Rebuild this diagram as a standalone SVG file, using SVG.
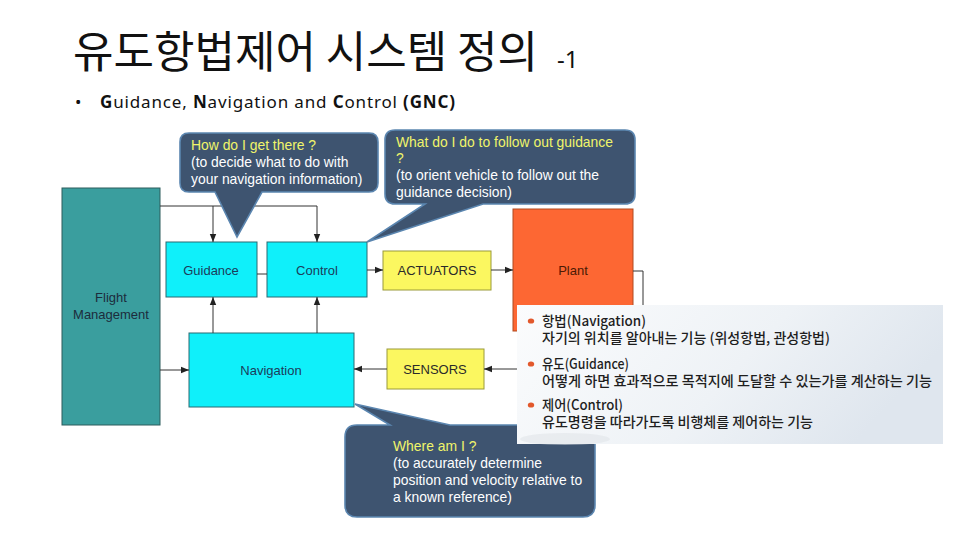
<svg xmlns="http://www.w3.org/2000/svg" width="960" height="540" viewBox="0 0 960 540">
<defs>
<style>
.box-c{fill:#0ff0fa;stroke:#2b6a72;stroke-width:1}
.box-y{fill:#fbf760;stroke:#9a9a3a;stroke-width:1}
.lbl{font-family:"Liberation Sans",Arial,sans-serif;font-size:13px;text-anchor:middle}
.conn{fill:none;stroke:#333;stroke-width:1}
.callout{fill:#3e5470;stroke:#5b86b0;stroke-width:1.6}
.ct{font-family:"Liberation Sans",Arial,sans-serif;font-size:13.9px;fill:#ffffff}
.cy{fill:#f0f56a}
.kt{font-family:"Noto Sans CJK KR","Noto Sans",sans-serif;font-size:14px;font-weight:500;fill:#1e1e1e}
</style>
<marker id="arr" viewBox="0 0 8 8" refX="8" refY="4" markerWidth="8" markerHeight="8" markerUnits="userSpaceOnUse" orient="auto">
<path d="M0,0.8 L8,4 L0,7.2 Z" fill="#222"/>
</marker>
<linearGradient id="pg" x1="0" y1="0" x2="1" y2="0.3">
<stop offset="0" stop-color="#fbfcfd"/>
<stop offset="0.6" stop-color="#eef2f6"/>
<stop offset="1" stop-color="#dfe6ee"/>
</linearGradient>
</defs>
<rect width="960" height="540" fill="#ffffff"/>

<g id="title">
<text x="73" y="68" font-family="'Noto Sans CJK KR',sans-serif" font-size="44" fill="#111" textLength="465" lengthAdjust="spacingAndGlyphs">유도항법제어 시스템 정의</text>
<text x="557" y="68" font-family="'Noto Sans','Noto Sans CJK KR',sans-serif" font-size="24" fill="#111">-1</text>
</g>
<g id="subtitle" font-family="'Noto Sans','Noto Sans CJK KR',sans-serif" font-size="17" fill="#111">
<text x="75" y="108">•</text>
<text x="100" y="108" textLength="355" lengthAdjust="spacing"><tspan font-weight="bold">G</tspan>uidance, <tspan font-weight="bold">N</tspan>avigation and <tspan font-weight="bold">C</tspan>ontrol <tspan font-weight="bold">(GNC)</tspan></text>
</g>

<g id="flight-management">
<rect x="62" y="188" width="98" height="237" fill="#3a9e9e" stroke="#2c5c5c"/>
<text class="lbl" x="111" y="302" fill="#1c2c3c">Flight</text>
<text class="lbl" x="111" y="319" fill="#1c2c3c">Management</text>
</g>
<g id="guidance">
<rect class="box-c" x="166" y="242" width="91" height="55"/>
<text class="lbl" x="211" y="275" fill="#1c3c5a">Guidance</text>
</g>
<g id="control">
<rect class="box-c" x="267" y="242" width="100" height="55"/>
<text class="lbl" x="317" y="275" fill="#1c3c5a">Control</text>
</g>
<g id="navigation">
<rect class="box-c" x="189" y="333" width="165" height="74"/>
<text class="lbl" x="271" y="375" fill="#1c3c5a">Navigation</text>
</g>
<g id="actuators">
<rect class="box-y" x="383" y="251" width="108" height="39"/>
<text class="lbl" x="437" y="275" fill="#2a2a2a">ACTUATORS</text>
</g>
<g id="sensors">
<rect class="box-y" x="387" y="349" width="97" height="40"/>
<text class="lbl" x="435" y="374" fill="#2a2a2a">SENSORS</text>
</g>
<g id="plant">
<rect x="513" y="209" width="120" height="122" fill="#fd6733" stroke="#b04a20"/>
<text class="lbl" x="573" y="275" fill="#4a1a05">Plant</text>
</g>

<g id="connectors">
<path class="conn" d="M160,206 H317 V242" marker-end="url(#arr)"/>
<path class="conn" d="M213,206 V242" marker-end="url(#arr)"/>
<path class="conn" d="M257,274 H267"/>
<path class="conn" d="M367,270 H383" marker-end="url(#arr)"/>
<path class="conn" d="M491,270 H513" marker-end="url(#arr)"/>
<path class="conn" d="M633,271 H643 V369 H484" marker-end="url(#arr)"/>
<path class="conn" d="M387,369 H354" marker-end="url(#arr)"/>
<path class="conn" d="M160,370 H189" marker-end="url(#arr)"/>
<path class="conn" d="M213,333 V297" marker-end="url(#arr)"/>
<path class="conn" d="M317,333 V297" marker-end="url(#arr)"/>
</g>

<g id="callout-guidance">
<path class="callout" d="M189,133 H369 Q378,133 378,142 V183 Q378,192 369,192 H262 L237,237 L215,192 H189 Q180,192 180,183 V142 Q180,133 189,133 Z"/>
<text class="ct cy" x="191" y="150">How do I get there ?</text>
<text class="ct" x="191" y="167">(to decide what to do with</text>
<text class="ct" x="191" y="184">your navigation information)</text>
</g>
<g id="callout-control">
<path class="callout" d="M395,130 H625 Q635,130 635,140 V194 Q635,204 625,204 H483 L367,242 L425,204 H395 Q385,204 385,194 V140 Q385,130 395,130 Z"/>
<text class="ct cy" x="396" y="147">What do I do to follow out guidance</text>
<text class="ct cy" x="396" y="163">?</text>
<text class="ct" x="396" y="180">(to orient vehicle to follow out the</text>
<text class="ct" x="396" y="197">guidance decision)</text>
</g>
<g id="callout-navigation">
<path class="callout" d="M357,425 H390 L355,404 L450,425 H583 Q595,425 595,437 V505 Q595,517 583,517 H357 Q345,517 345,505 V437 Q345,425 357,425 Z"/>
<text class="ct cy" x="393" y="451">Where am I ?</text>
<text class="ct" x="393" y="468">(to accurately determine</text>
<text class="ct" x="393" y="485">position and velocity relative to</text>
<text class="ct" x="393" y="502">a known reference)</text>
</g>

<g id="definition-panel">
<rect x="517" y="305" width="426" height="139" fill="url(#pg)"/>
<ellipse cx="565" cy="439" rx="45" ry="6" fill="#dde1e5" opacity="0.5"/>
<ellipse cx="531" cy="321" rx="3.2" ry="2.6" fill="#e2582c"/>
<ellipse cx="531" cy="364" rx="3.2" ry="2.6" fill="#e2582c"/>
<ellipse cx="531" cy="405" rx="3.2" ry="2.6" fill="#e2582c"/>
<text class="kt" x="542" y="326" textLength="104" lengthAdjust="spacingAndGlyphs">항법(Navigation)</text>
<text class="kt" x="542" y="343" textLength="288" lengthAdjust="spacingAndGlyphs">자기의 위치를 알아내는 기능 (위성항법, 관성항법)</text>
<text class="kt" x="542" y="369" textLength="87" lengthAdjust="spacingAndGlyphs">유도(Guidance)</text>
<text class="kt" x="542" y="386" textLength="390" lengthAdjust="spacingAndGlyphs">어떻게 하면 효과적으로 목적지에 도달할 수 있는가를 계산하는 기능</text>
<text class="kt" x="542" y="410" textLength="81" lengthAdjust="spacingAndGlyphs">제어(Control)</text>
<text class="kt" x="542" y="427" textLength="271" lengthAdjust="spacingAndGlyphs">유도명령을 따라가도록 비행체를 제어하는 기능</text>
</g>
</svg>
